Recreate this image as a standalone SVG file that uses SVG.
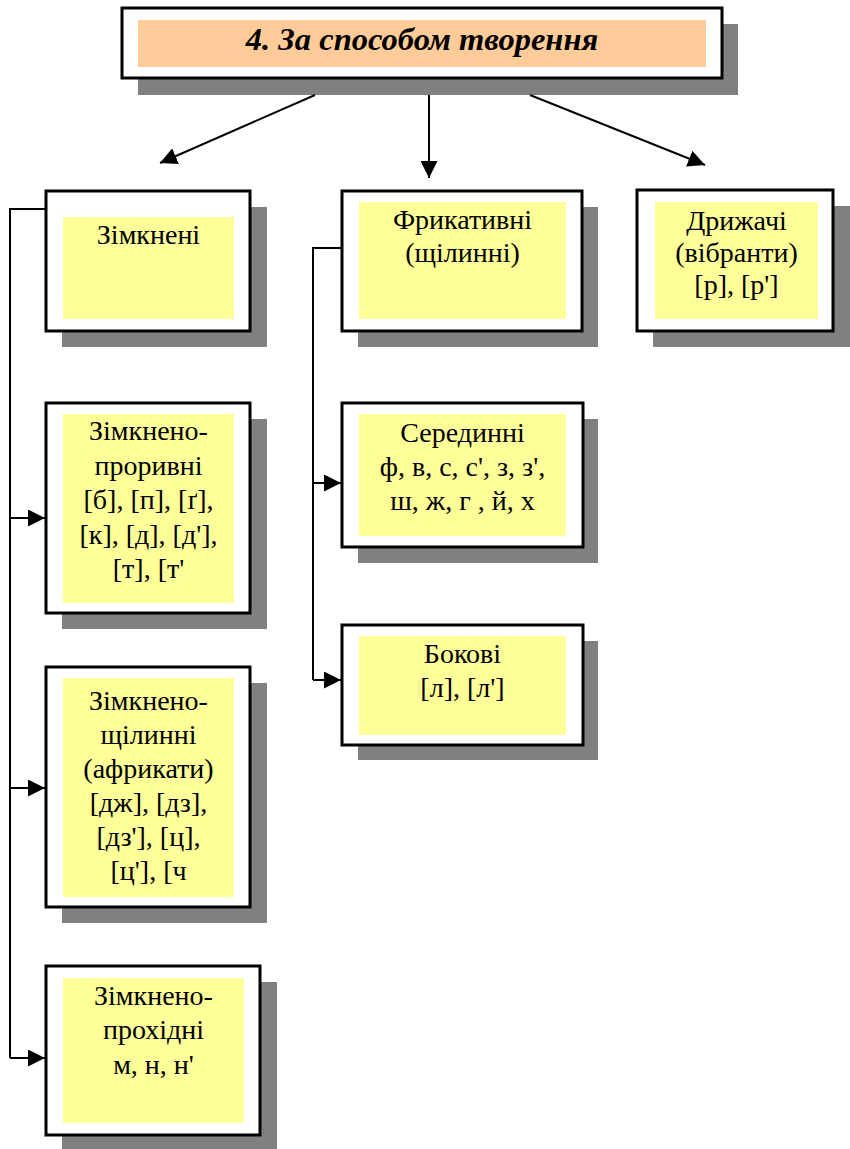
<svg xmlns="http://www.w3.org/2000/svg" width="850" height="1149" viewBox="0 0 850 1149">
<style>
.sh{fill:#808080}
.box{fill:#fff;stroke:#000;stroke-width:3}
.in{fill:#FFFF99}
.tin{fill:#FFCC99}
.t{font-family:"Liberation Serif","Times New Roman",serif;font-size:28px;fill:#000;text-anchor:middle}
.title{font-family:"Liberation Serif","Times New Roman",serif;font-size:32.5px;font-weight:bold;font-style:italic;fill:#000;text-anchor:middle}
.c{fill:none;stroke:#000;stroke-width:2}
</style>
<defs>
<marker id="ah2" viewBox="0 0 10 10" refX="10" refY="5" markerWidth="17" markerHeight="17" markerUnits="userSpaceOnUse" orient="auto">
<path d="M0,0 L10,5 L0,10 Z" fill="#000"/>
</marker>
</defs>
<g id="title">
<rect class="sh" x="138" y="24" width="600" height="71"/>
<rect class="box" x="122" y="8" width="600" height="70"/>
<rect class="tin" x="138" y="20" width="568" height="47"/>
<text class="title" x="422" y="50">4. За способом творення</text>
</g>

<g id="connectors">
<path class="c" d="M315,95 L160,163" marker-end="url(#ah2)"/>
<path class="c" d="M429,95 L429,178" marker-end="url(#ah2)"/>
<path class="c" d="M530,95 L705,165" marker-end="url(#ah2)"/>
<path class="c" d="M46,209 L10,209 L10,1058"/>
<path class="c" d="M10,518 L45,518" marker-end="url(#ah2)"/>
<path class="c" d="M10,788 L45,788" marker-end="url(#ah2)"/>
<path class="c" d="M10,1058 L45,1058" marker-end="url(#ah2)"/>
<path class="c" d="M342,248 L313,248 L313,680"/>
<path class="c" d="M313,483 L341,483" marker-end="url(#ah2)"/>
<path class="c" d="M313,680 L341,680" marker-end="url(#ah2)"/>
</g>

<g id="zimkneni">
<rect class="sh" x="62" y="207" width="205" height="140"/>
<rect class="box" x="46" y="191" width="204" height="140"/>
<rect class="in" x="63" y="217" width="171" height="102"/>
<text class="t" x="148.5" y="244">Зімкнені</text>
</g>

<g id="prorivni">
<rect class="sh" x="62" y="419" width="205" height="210"/>
<rect class="box" x="46" y="403" width="204" height="210"/>
<rect class="in" x="63" y="414" width="171" height="189"/>
<text class="t" x="148.5" y="440">Зімкнено-</text>
<text class="t" x="148.5" y="474.5">проривні</text>
<text class="t" x="148.5" y="509">[б], [п], [ґ],</text>
<text class="t" x="148.5" y="543.5">[к], [д], [д'],</text>
<text class="t" x="148.5" y="578">[т], [т'</text>
</g>

<g id="africaty">
<rect class="sh" x="62" y="683" width="205" height="240"/>
<rect class="box" x="46" y="667" width="204" height="240"/>
<rect class="in" x="63" y="678" width="171" height="219"/>
<text class="t" x="148.5" y="710">Зімкнено-</text>
<text class="t" x="148.5" y="744">щілинні</text>
<text class="t" x="148.5" y="778">(африкати)</text>
<text class="t" x="148.5" y="812">[дж], [дз],</text>
<text class="t" x="148.5" y="846">[дз'], [ц],</text>
<text class="t" x="148.5" y="880">[ц'], [ч</text>
</g>

<g id="prohidni">
<rect class="sh" x="62" y="982" width="215" height="167"/>
<rect class="box" x="46" y="966" width="214" height="169"/>
<rect class="in" x="63" y="978" width="181" height="145"/>
<text class="t" x="153.5" y="1005">Зімкнено-</text>
<text class="t" x="153.5" y="1039">прохідні</text>
<text class="t" x="153.5" y="1074">м, н, н'</text>
</g>

<g id="frikativni">
<rect class="sh" x="358" y="207" width="240" height="140"/>
<rect class="box" x="342" y="191" width="240" height="140"/>
<rect class="in" x="359" y="202" width="207" height="117"/>
<text class="t" x="462.5" y="229">Фрикативні</text>
<text class="t" x="462.5" y="262">(щілинні)</text>
</g>

<g id="seredinni">
<rect class="sh" x="358" y="419" width="240" height="144"/>
<rect class="box" x="342" y="403" width="241" height="144"/>
<rect class="in" x="359" y="414" width="207" height="122"/>
<text class="t" x="462.5" y="442">Серединні</text>
<text class="t" x="462.5" y="476">ф, в, с, с', з, з',</text>
<text class="t" x="462.5" y="510">ш, ж, г , й, х</text>
</g>

<g id="bokovi">
<rect class="sh" x="358" y="641" width="240" height="119"/>
<rect class="box" x="342" y="625" width="241" height="120"/>
<rect class="in" x="359" y="636" width="207" height="99"/>
<text class="t" x="462.5" y="663">Бокові</text>
<text class="t" x="462.5" y="697">[л], [л']</text>
</g>

<g id="dryzhachi">
<rect class="sh" x="653" y="206" width="197" height="141"/>
<rect class="box" x="637" y="190" width="196" height="141"/>
<rect class="in" x="655" y="202" width="163" height="117"/>
<text class="t" x="736.5" y="230">Дрижачі</text>
<text class="t" x="736.5" y="262">(вібранти)</text>
<text class="t" x="736.5" y="294">[р], [р']</text>
</g>
</svg>
